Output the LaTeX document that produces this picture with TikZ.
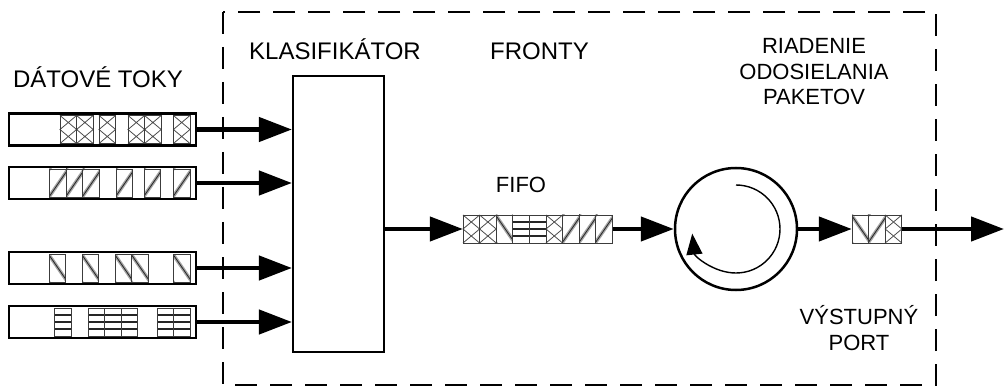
\documentclass[tikz,border=0pt]{standalone}
\usepackage{fontspec}
\setmainfont{Liberation Sans}
\usetikzlibrary{arrows.meta}
\definecolor{ink}{RGB}{0,0,0}
\definecolor{haze}{RGB}{165,165,165}
\definecolor{edge}{RGB}{60,60,60}

\newcommand{\pktframe}[2]{\draw[pkt] (#1,#2) rectangle ++(16.6,28);}
\newcommand{\pktcross}[2]{%
	\draw[pktline, draw=ink!70] (#1,#2) -- ++(16.6,14) -- ++(-16.6,14)
		(#1+16.6,#2) -- ++(-16.6,14) -- ++(16.6,14);
	\pktframe{#1}{#2}}
\newcommand{\pktne}[2]{%
	\begin{scope}
		\clip (#1,#2) rectangle ++(16.6,28);
		\foreach \o in {-19,0,19} \draw[pkthaze] (#1+\o-2,#2+30) -- ++(22,-32);
		\foreach \o in {-19,0,19} \draw[pktline] (#1+\o-2,#2+30) -- ++(22,-32);
	\end{scope}
	\pktframe{#1}{#2}}
\newcommand{\pktnw}[2]{%
	\begin{scope}
		\clip (#1,#2) rectangle ++(16.6,28);
		\foreach \o in {-19,0,19} \draw[pkthaze] (#1+\o-2,#2-2) -- ++(22,32);
		\foreach \o in {-19,0,19} \draw[pktline] (#1+\o-2,#2-2) -- ++(22,32);
	\end{scope}
	\pktframe{#1}{#2}}
\newcommand{\pkthl}[2]{%
	\draw[pktline, line width=1.1pt] (#1,#2+7) -- ++(16.6,0) (#1,#2+14) -- ++(16.6,0)
		(#1,#2+21) -- ++(16.6,0);
	\pktframe{#1}{#2}}

\begin{document}
\begin{tikzpicture}[x=1pt, y=-1pt,
		lbl/.style={inner sep=0, anchor=base, font=\fontsize{24}{28}\selectfont},
		lblsm/.style={inner sep=0, anchor=base, align=center, font=\fontsize{22}{25.5}\selectfont},
		flow/.style={draw=ink, line width=2.6pt, minimum width=187pt, minimum height=32pt, inner sep=0},
		klas/.style={draw=ink, line width=2.2pt, minimum width=91pt, minimum height=276pt, inner sep=0},
		queue/.style={minimum width=149.4pt, minimum height=28pt, inner sep=0},
		sched/.style={circle, draw=ink, line width=2.5pt, minimum size=122pt, inner sep=0},
		frame/.style={draw=ink, line width=2pt, dash pattern=on 22pt off 13pt},
		pkt/.style={draw=edge, line width=0.8pt},
		pktline/.style={draw=ink!85, line width=0.8pt},
		pkthaze/.style={draw=haze, line width=3.5pt},
		arr/.style={-{Triangle[length=33pt, width=24pt]}, line width=4.5pt, ink},
		rot/.style={-{Triangle[length=21pt, width=16pt]}, line width=1.4pt, ink}]
	\useasboundingbox (0,0) rectangle (1004,390);
	\draw[frame] (223,12) rectangle (936,385);
	\node[lbl] (lblflows) at (98,88) {DÁTOVÉ TOKY};
	\node[lbl] (lblklas) at (335,60) {KLASIFIKÁTOR};
	\node[lbl] (lblfronty) at (539.5,60) {FRONTY};
	\node[lblsm] (lblfifo) at (521,193) {FIFO};
	\node[lblsm] (lblsched) at (814,105) {RIADENIE\\ODOSIELANIA\\PAKETOV};
	\node[lblsm] (lblport) at (859,350) {VÝSTUPNÝ\\PORT};
	\node[klas] (kl) at (338.5,214) {};
	\node[flow] (f1) at (102.5,129.5) {};
	\node[flow] (f2) at (102.5,183) {};
	\node[flow] (f3) at (102.5,268) {};
	\node[flow] (f4) at (102.5,322) {};
	\foreach \px in {60,76.6,99,128,144.6,173.4} {\pktcross{\px}{115.5}}
	\foreach \px in {49.6,66.2,82.8,116,144,173.4} {\pktne{\px}{169}}
	\foreach \px in {49,82,115,131.6,173.4} {\pktnw{\px}{254}}
	\foreach \px in {54.5,88,104.6,121.2,157,173.4} {\pkthl{\px}{308}}
	\foreach \f in {f1,f2,f3,f4}
		\draw[arr] (\f.east) -- (\f.east -| kl.west);
	\node[queue] (fifo) at (537.7,229) {};
	\pktcross{463}{215} \pktcross{479.6}{215} \pktnw{496.2}{215}
	\pkthl{512.8}{215} \pkthl{529.4}{215} \pktcross{546}{215}
	\foreach \px in {562.6,579.2,595.8} {\pktne{\px}{215}}
	\draw[arr] (kl.east |- fifo.west) -- (fifo.west);
	\node[sched] (sch) at (736,229) {};
	\draw[arr] (fifo.east) -- (sch.west);
	\draw[rot] ([shift={(-90:44)}]sch.center) arc[start angle=-90, end angle=174, radius=44];
	\node[queue, minimum width=49.8pt] (outq) at (876.9,229) {};
	\pktnw{852}{215} \pktne{868.6}{215} \pktcross{885.2}{215}
	\draw[arr] (sch.east) -- (outq.west);
	\coordinate (out) at (1004,229);
	\draw[arr] (outq.east) -- (out);
\end{tikzpicture}
\end{document}
